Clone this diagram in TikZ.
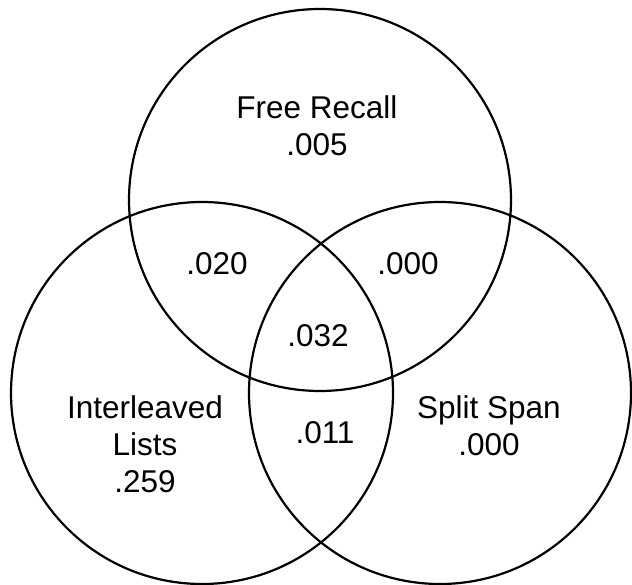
\documentclass[tikz,border=0pt]{standalone}
\usepackage{fontspec}
\setmainfont{Liberation Sans}
\begin{document}
\begin{tikzpicture}[x=1pt,y=-1pt,
  ring/.style={draw=black, line width=2.2pt},
  lbl/.style={font=\fontsize{31.5}{37}\selectfont, inner sep=0pt, align=center, anchor=base}]
\useasboundingbox (0,0) rectangle (632,585);
\coordinate (ctop) at (320,200);
\coordinate (cleft) at (202,393);
\coordinate (cright) at (440,393);
\draw[ring] (ctop) circle[radius=191];
\draw[ring] (cleft) circle[radius=191];
\draw[ring] (cright) circle[radius=191];
\node[lbl] (fr) at (317,156) {Free Recall\\.005};
\node[lbl] (il) at (145,492) {Interleaved\\Lists\\.259};
\node[lbl] (ss) at (489,455) {Split Span\\.000};
\node[lbl] (a) at (217,275) {.020};
\node[lbl] (b) at (408,275) {.000};
\node[lbl] (c) at (318,347) {.032};
\node[lbl] (d) at (325,443) {.011};
\end{tikzpicture}
\end{document}
